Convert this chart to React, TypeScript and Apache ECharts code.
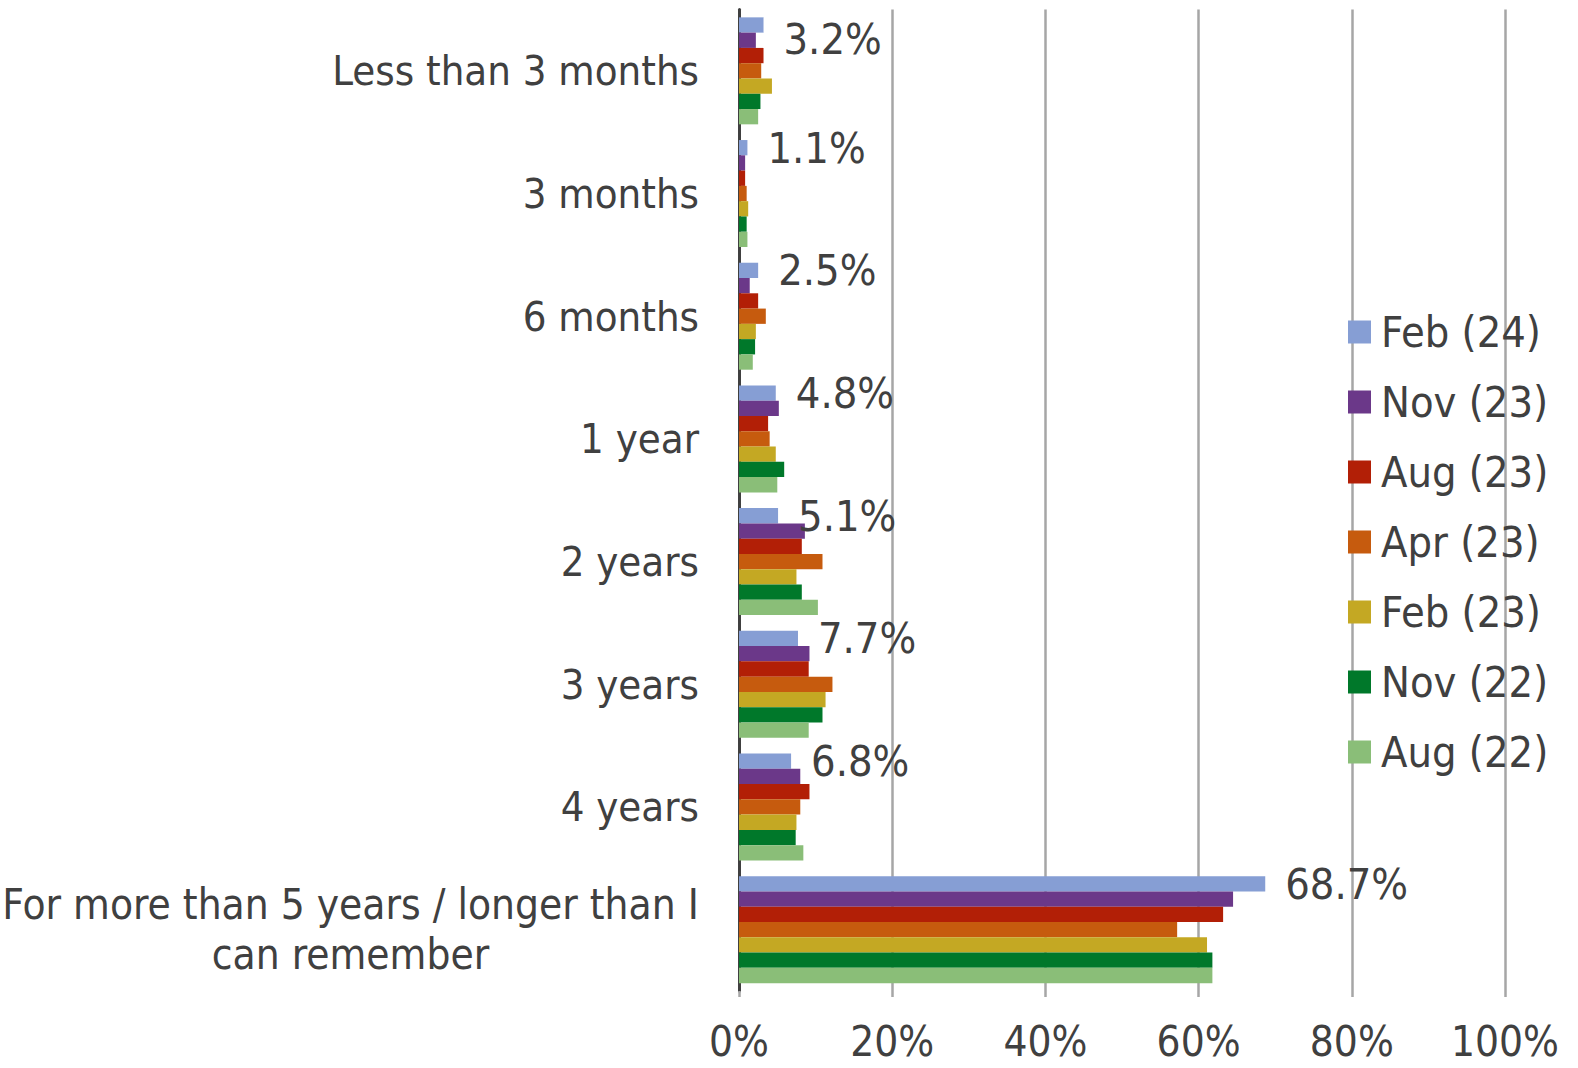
import React, { useEffect, useRef } from "react";
import * as echarts from "echarts";

const categories = [
  "Less than 3 months",
  "3 months",
  "6 months",
  "1 year",
  "2 years",
  "3 years",
  "4 years",
  "For more than 5 years / longer than I can remember",
];

const seriesNames = ["Feb (24)", "Nov (23)", "Aug (23)", "Apr (23)", "Feb (23)", "Nov (22)", "Aug (22)"];

const feb24 = [3.2, 1.1, 2.5, 4.8, 5.1, 7.7, 6.8, 68.7];
const nov23 = [2.2, 0.8, 1.4, 5.2, 8.6, 9.2, 8.0, 64.5];
const aug23 = [3.2, 0.8, 2.5, 3.8, 8.2, 9.1, 9.2, 63.2];
const apr23 = [2.9, 1.0, 3.5, 4.0, 10.9, 12.2, 8.0, 57.2];
const feb23 = [4.3, 1.2, 2.2, 4.8, 7.5, 11.3, 7.5, 61.1];
const nov22 = [2.8, 1.0, 2.1, 5.9, 8.2, 10.9, 7.4, 61.8];
const aug22 = [2.5, 1.1, 1.8, 5.0, 10.3, 9.1, 8.4, 61.8];

const seriesValues = [feb24, nov23, aug23, apr23, feb23, nov22, aug22];
const colors = ["#869ED4", "#6B3889", "#B21F06", "#C65B0E", "#C4A823", "#00782A", "#8ABE78"];

const xTicks = { min: 0, max: 100, interval: 20 };

const FONT = "'DejaVu Sans Condensed', 'Liberation Sans', sans-serif";
const TEXT = "#404040";
const GRID = "#a6a6a6";

export default function App() {
  const ref = useRef<HTMLDivElement>(null);
  useEffect(() => {
    document.body.style.margin = "0";
    const chart = echarts.init(ref.current!, null, { renderer: "svg" });
    const longLabel = categories[categories.length - 1];
    const option: any = {
      animation: false,
      textStyle: { fontFamily: FONT },
      grid: {
        left: 739,
        right: 73,
        top: 9.5,
        bottom: 77,
        containLabel: false,
        outerBoundsMode: "none",
      },
      legend: {
        orient: "vertical",
        left: 1343,
        top: 304,
        icon: "rect",
        itemWidth: 23,
        itemHeight: 23,
        itemGap: 24,
        data: seriesNames,
        textStyle: { fontSize: 43, lineHeight: 46, color: TEXT, fontFamily: FONT, padding: [0, 0, 0, 5] },
      },
      xAxis: {
        type: "value",
        min: xTicks.min,
        max: xTicks.max,
        interval: xTicks.interval,
        axisLine: { show: false },
        axisTick: { show: true, length: 6, lineStyle: { color: GRID, width: 2.5 } },
        splitLine: { show: true, lineStyle: { color: GRID, width: 2.5 } },
        axisLabel: {
          formatter: "{value}%",
          fontSize: 42,
          lineHeight: 36,
          color: TEXT,
          fontFamily: FONT,
          margin: 32,
        },
      },
      yAxis: {
        type: "category",
        inverse: true,
        data: categories,
        axisLine: { show: true, lineStyle: { color: TEXT, width: 3 } },
        axisTick: { show: false },
        axisLabel: {
          fontSize: 41.5,
          color: TEXT,
          fontFamily: FONT,
          margin: 40,
          formatter: (v: string) => {
            if (v === longLabel) {
              return "{c|For more than 5 years / longer than I}\n{c|can remember}";
            }
            return v;
          },
          rich: {
            c: {
              width: 697,
              align: "center",
              fontSize: 42,
              lineHeight: 50,
              color: TEXT,
              fontFamily: FONT,
            },
          },
        },
      },
      series: seriesNames.map((name, i) => ({
        name,
        type: "bar",
        barGap: "0%",
        barCategoryGap: "12.8%",
        itemStyle: { color: colors[i] },
        data: seriesValues[i].map((v, j) =>
          i === 0 && j === 0 ? { value: v, label: { offset: [0, 14] } } : v
        ),
        label:
          i === 0
            ? {
                show: true,
                position: "right",
                distance: 20,
                fontSize: 43,
                color: TEXT,
                fontFamily: FONT,
                formatter: (p: any) => `${p.value}%`,
              }
            : { show: false },
      })),
    };
    chart.setOption(option);
    return () => chart.dispose();
  }, []);
  return <div ref={ref} style={{ width: 1578, height: 1068 }} />;
}
